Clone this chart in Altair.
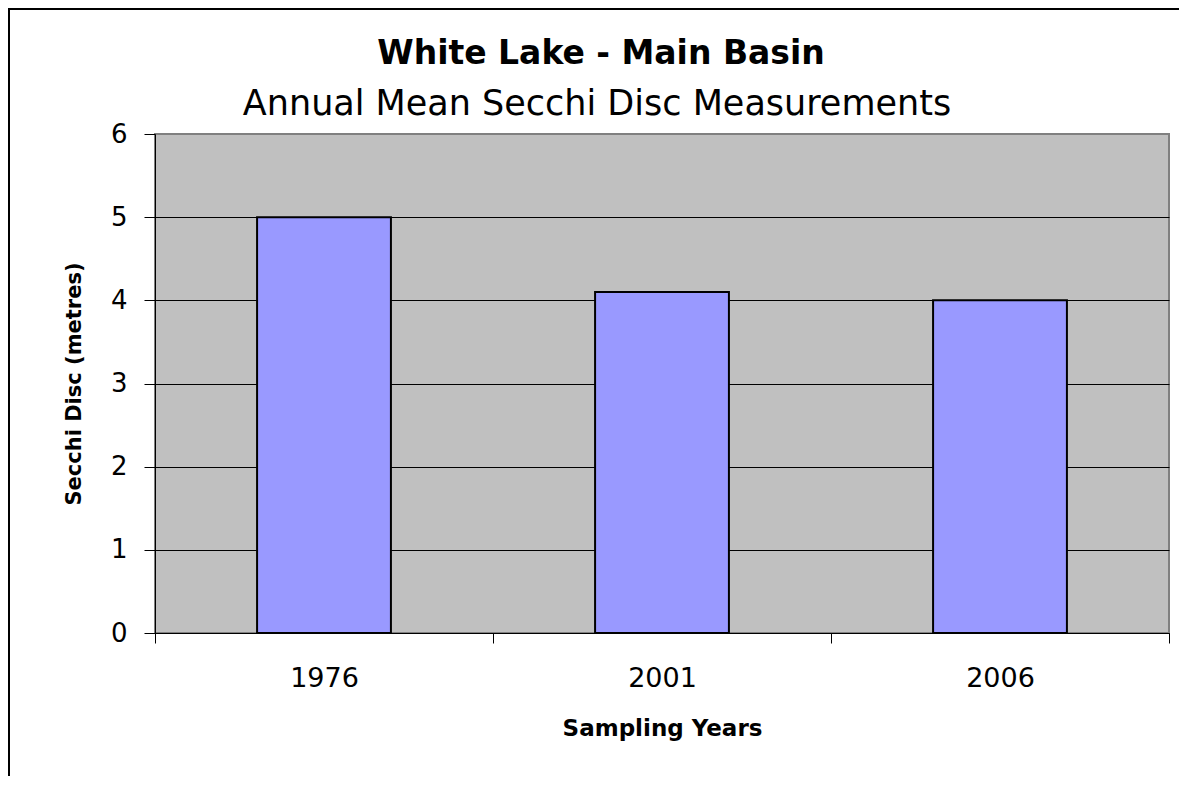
import altair as alt
import pandas as pd

years = ["1976", "2001", "2006"]
secchi = [5.0, 4.1, 4.0]
y_ticks = [0, 1, 2, 3, 4, 5, 6]
title_text = "White Lake - Main Basin"
subtitle_text = "Annual Mean Secchi Disc Measurements"

df = pd.DataFrame({"year": years, "secchi": secchi})

W, H = 1014, 499
PAD = {"left": 147, "top": 126, "right": 10, "bottom": 143}
FONT = "DejaVu Sans"

bars = alt.Chart(df).mark_bar(
    width=alt.RelativeBandSize(0.396),
    fill="#9999FF",
    stroke="black",
    strokeWidth=2,
).encode(
    x=alt.X(
        "year:N",
        sort=years,
        scale=alt.Scale(paddingInner=0, paddingOuter=0),
        axis=alt.Axis(
            title="Sampling Years",
            labelAngle=0,
            tickBand="extent",
            tickSize=10,
            tickColor="black",
            domainColor="black",
            labelFont=FONT,
            labelFontSize=27,
            labelColor="black",
            labelPadding=22,
            titleFont=FONT,
            titleFontSize=23,
            titleFontWeight="bold",
            titleColor="black",
            titlePadding=26,
            grid=False,
        ),
    ),
    y=alt.Y(
        "secchi:Q",
        scale=alt.Scale(domain=[0, 6], nice=False),
        axis=alt.Axis(
            title="Secchi Disc (metres)",
            values=y_ticks,
            tickSize=11,
            tickColor="black",
            domainColor="black",
            labelFont=FONT,
            labelFontSize=26,
            labelColor="black",
            labelPadding=17,
            titleFont=FONT,
            titleFontSize=21,
            titleFontWeight="bold",
            titleColor="black",
            titlePadding=26,
            grid=True,
            gridColor=alt.condition("datum.value == 6", alt.value("#808080"), alt.value("black")),
            gridWidth=1,
            gridOpacity=1,
        ),
    ),
)

frame = alt.Chart(alt.Data(values=[{"f": 1}])).mark_rect(
    filled=False, fillOpacity=0, stroke="black", strokeWidth=2
).encode(
    x=alt.value(-PAD["left"] + 1),
    y=alt.value(-PAD["top"] + 1),
    x2=alt.value(W + PAD["right"] + 20),
    y2=alt.value(H + PAD["bottom"] + 20),
)

title_mark = alt.Chart(alt.Data(values=[{"t": title_text}])).mark_text(
    font=FONT, fontSize=33, fontWeight="bold", color="black",
    align="center", baseline="alphabetic",
).encode(
    text="t:N",
    x=alt.value(W / 2 - 61),
    y=alt.value(-70),
)

subtitle_mark = alt.Chart(alt.Data(values=[{"t": subtitle_text}])).mark_text(
    font=FONT, fontSize=35, fontWeight="normal", color="black",
    align="center", baseline="alphabetic",
).encode(
    text="t:N",
    x=alt.value(W / 2 - 65),
    y=alt.value(-19),
)

chart = alt.layer(frame, bars, title_mark, subtitle_mark).properties(
    width=W,
    height=H,
    padding=PAD,
    background="white",
    autosize=alt.AutoSizeParams(type="none"),
).configure_view(
    stroke="#808080", strokeWidth=2, fill="#C0C0C0"
)

chart.save("out.html", embed_options={"renderer": "svg", "actions": False})
